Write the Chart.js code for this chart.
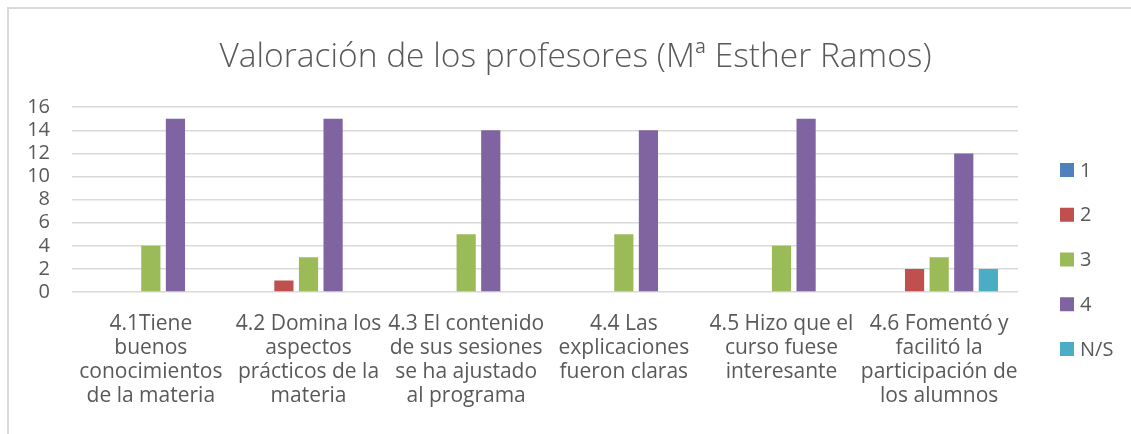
<!DOCTYPE html>
<html>
<head>
<meta charset="utf-8">
<script src="https://cdn.jsdelivr.net/npm/chart.js@4/dist/chart.umd.min.js"></script>
<style>
  html, body { margin: 0; padding: 0; background: #ffffff; }
  #wrap { position: relative; width: 1131px; height: 434px; overflow: hidden; }
  #frame { position: absolute; left: 7px; top: 7px; width: 1200px; height: 500px;
           border-left: 2px solid #d9d9d9; border-top: 2px solid #d9d9d9; pointer-events: none; }
  canvas { position: absolute; left: 0; top: 0; }
</style>
</head>
<body>
<div id="wrap">
  <canvas id="c" width="1131" height="434"></canvas>
  <div id="frame"></div>
</div>
<script>
const titleText = "Valoración de los profesores (Mª Esther Ramos)";
const categories = [
  ["4.1Tiene", "buenos", "conocimientos", "de la materia"],
  ["4.2 Domina los", "aspectos", "prácticos de la", "materia"],
  ["4.3 El contenido", "de sus sesiones", "se ha ajustado", "al programa"],
  ["4.4 Las", "explicaciones", "fueron claras"],
  ["4.5 Hizo que el", "curso fuese", "interesante"],
  ["4.6 Fomentó y", "facilitó la", "participación de", "los alumnos"]
];
const seriesNames = ["1", "2", "3", "4", "N/S"];
const values1 = [0, 0, 0, 0, 0, 0];
const values2 = [0, 1, 0, 0, 0, 2];
const values3 = [4, 3, 5, 5, 4, 3];
const values4 = [15, 15, 14, 14, 15, 12];
const valuesNS = [0, 0, 0, 0, 0, 2];
const yTicks = [0, 2, 4, 6, 8, 10, 12, 14, 16];

const colors = ["#4f81bd", "#c0504d", "#9bbb59", "#8064a2", "#4bacc6"];
const allValues = [values1, values2, values3, values4, valuesNS];
const textColor = "#595959";
const fontFamily = "'Open Sans', 'DejaVu Sans', sans-serif";

const legendPlugin = {
  id: 'customLegend',
  afterDraw(chart) {
    const ctx = chart.ctx;
    const items = chart.data.datasets;
    const boxX = 1060, boxSize = 14, textX = 1080;
    const firstY = 170, step = 44.75;
    ctx.save();
    ctx.font = "20px " + fontFamily;
    ctx.textBaseline = 'middle';
    ctx.textAlign = 'left';
    items.forEach((ds, i) => {
      const cy = firstY + i * step;
      ctx.fillStyle = ds.backgroundColor;
      ctx.fillRect(boxX, cy - boxSize / 2, boxSize, boxSize);
      ctx.fillStyle = textColor;
      ctx.fillText(ds.label, textX, cy + 1);
    });
    ctx.restore();
  }
};

new Chart(document.getElementById('c'), {
  type: 'bar',
  data: {
    labels: categories,
    datasets: seriesNames.map((name, i) => ({
      label: name,
      data: allValues[i],
      backgroundColor: colors[i],
      borderWidth: 0,
      categoryPercentage: 0.78,
      barPercentage: 0.78
    }))
  },
  options: {
    responsive: false,
    animation: false,
    layout: { padding: { left: 20, right: 0, top: 0, bottom: 0 } },
    plugins: {
      legend: { display: false },
      tooltip: { enabled: false },
      title: {
        display: true,
        text: titleText,
        color: textColor,
        font: { family: fontFamily, size: 33.5, weight: '300', lineHeight: 1.2 },
        padding: { top: 37, bottom: 30 }
      }
    },
    scales: {
      x: {
        grid: { display: false, drawTicks: false },
        border: { display: false },
        ticks: {
          color: textColor,
          font: { family: fontFamily, size: 21, lineHeight: '24px' },
          autoSkip: false, maxRotation: 0, minRotation: 0,
          padding: 20
        },
        afterFit(scale) { scale.height = 142; }
      },
      y: {
        min: 0, max: 16,
        afterBuildTicks(scale) { scale.ticks = yTicks.map(v => ({ value: v })); },
        grid: { color: '#d9d9d9', lineWidth: 1.5, drawTicks: false },
        border: { display: false },
        ticks: {
          color: textColor,
          font: { family: fontFamily, size: 20 },
          autoSkip: false,
          padding: 22
        },
        afterFit(scale) { scale.width = 52; }
      },
      yR: {
        position: 'right',
        display: true,
        grid: { display: false, drawTicks: false },
        border: { display: false },
        ticks: { display: false },
        afterFit(scale) { scale.width = 113; }
      }
    }
  },
  plugins: [legendPlugin]
});
</script>
</body>
</html>
